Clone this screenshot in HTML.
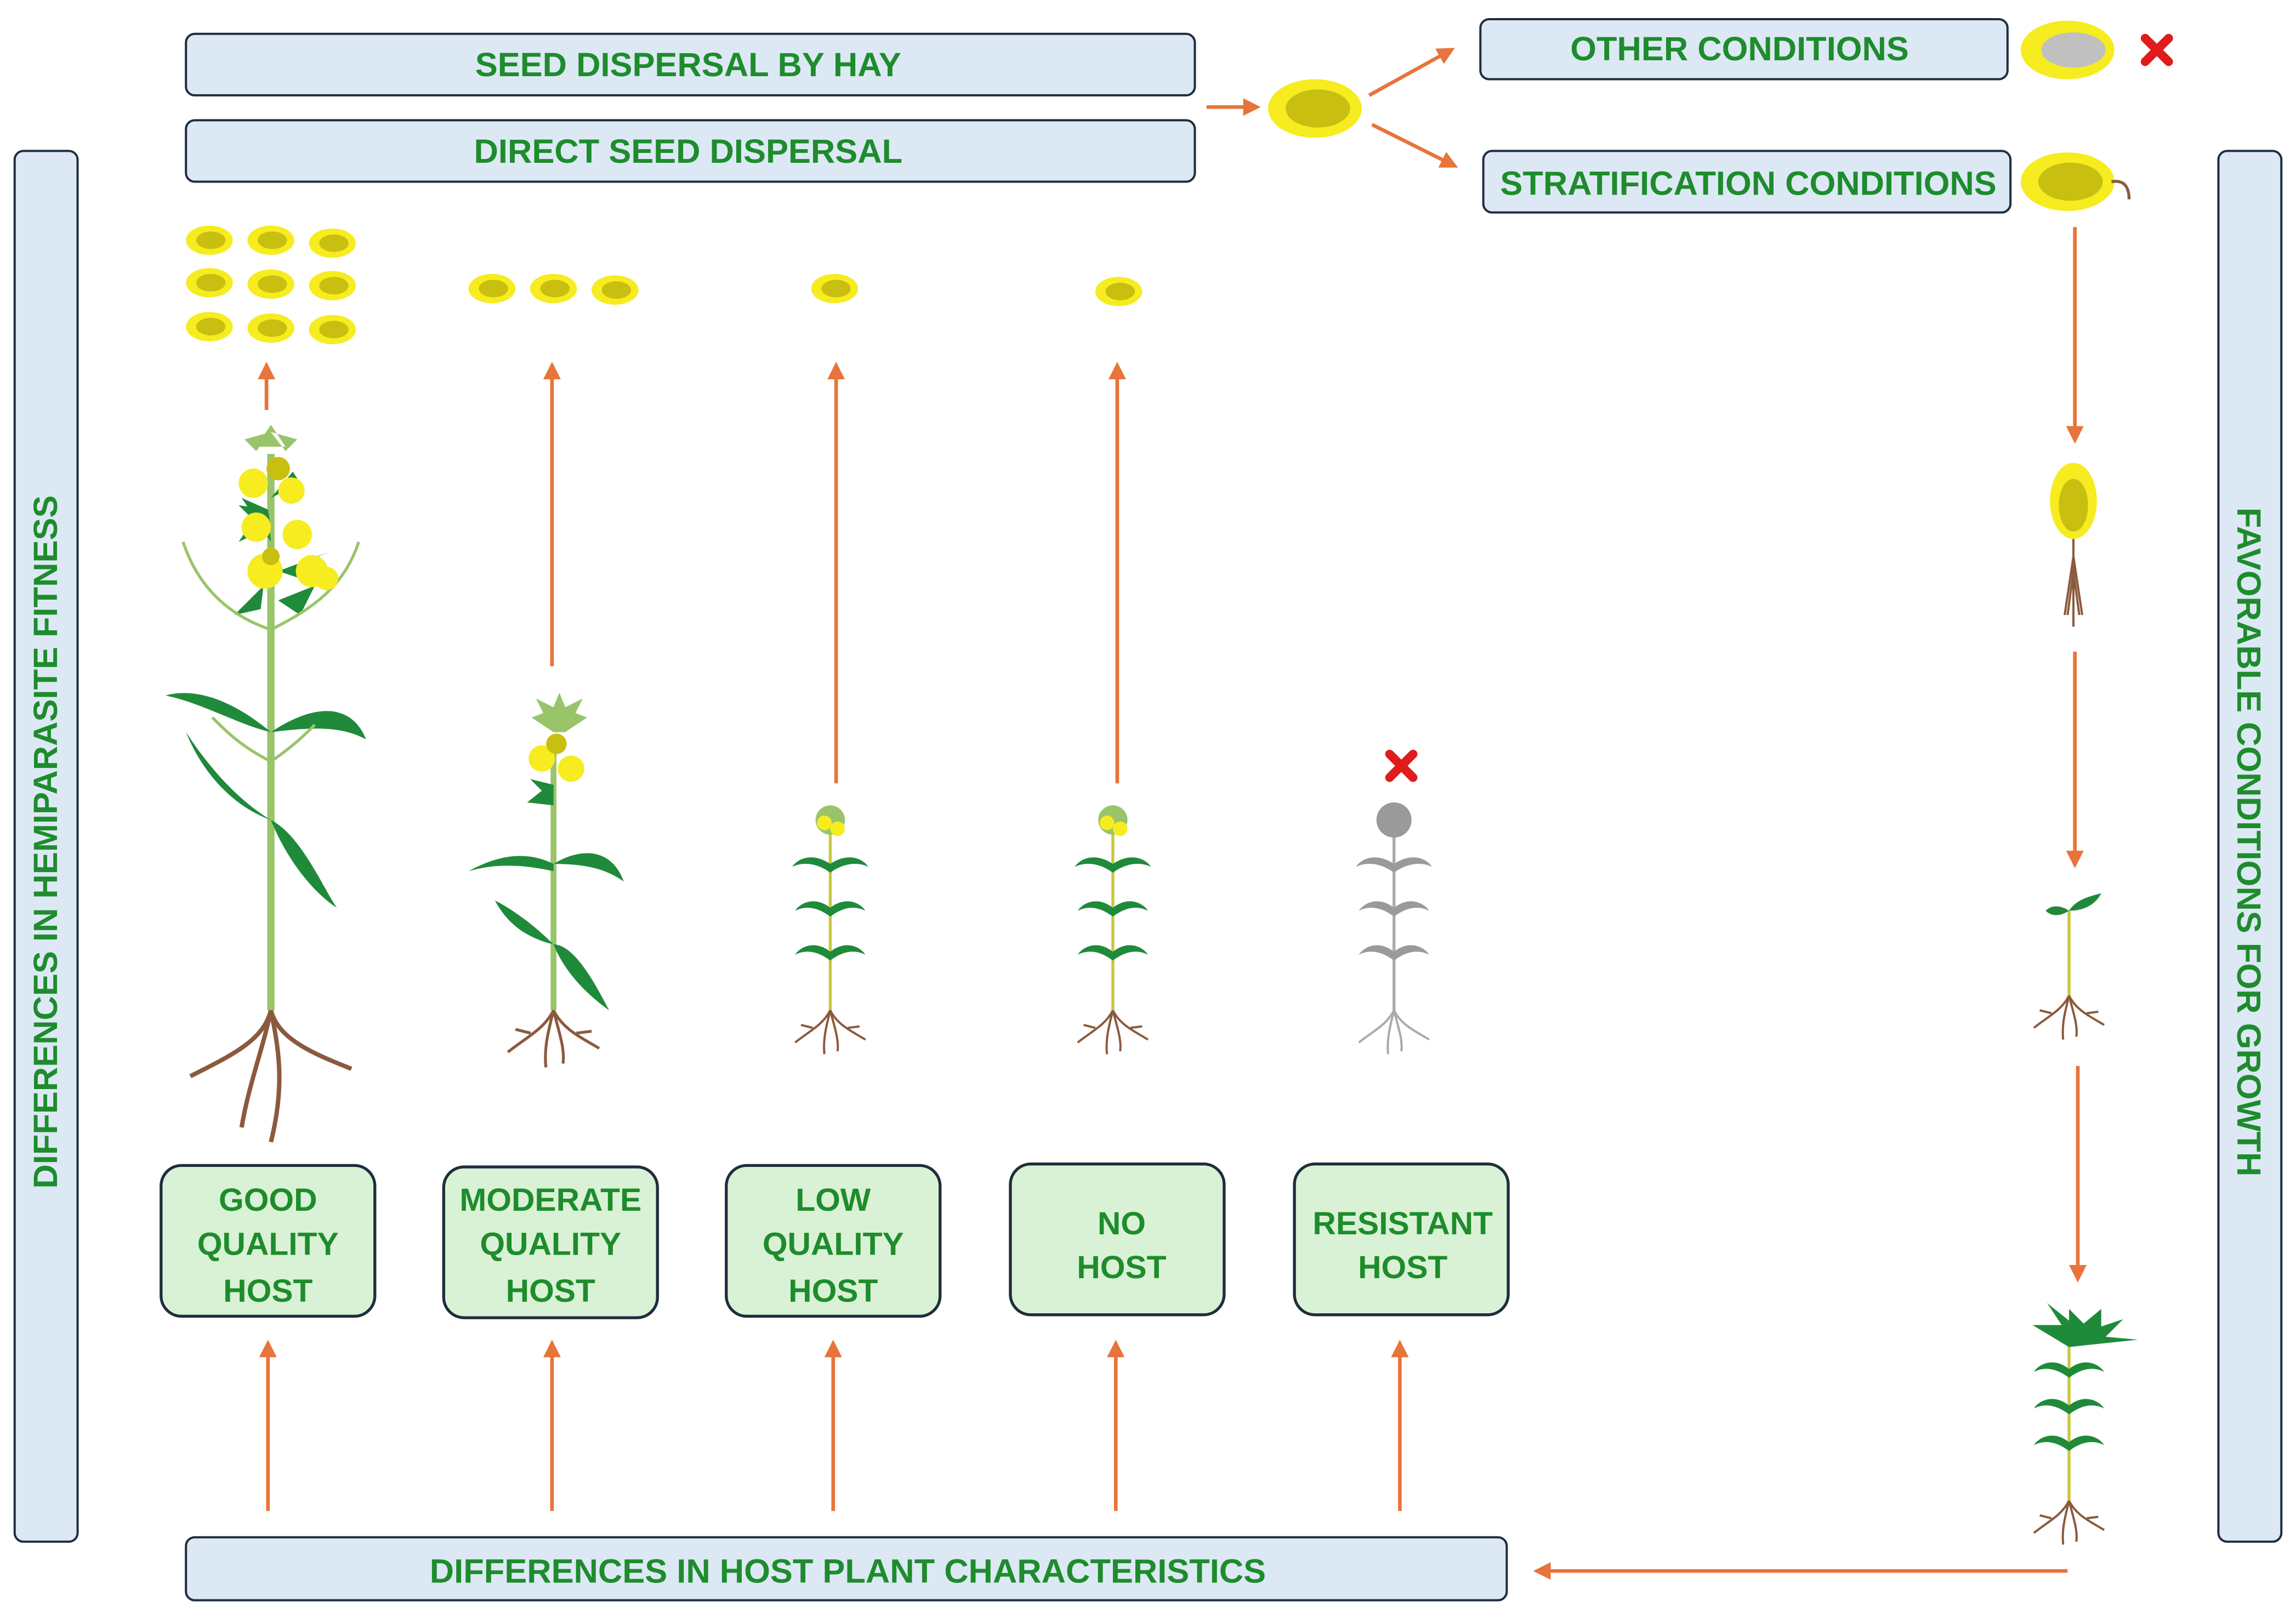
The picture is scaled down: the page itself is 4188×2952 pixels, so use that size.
<!DOCTYPE html>
<html><head><meta charset="utf-8"><style>
html,body{margin:0;padding:0;background:#fff;}
svg{display:block;}
text{font-family:"Liberation Sans",sans-serif;font-weight:bold;fill:#1e8c2c;}
</style></head><body>
<svg width="4188" height="2952" viewBox="0 0 1568 1105" xmlns="http://www.w3.org/2000/svg">
<defs>
<marker id="ah" markerWidth="12" markerHeight="12" refX="9" refY="6" orient="auto" markerUnits="userSpaceOnUse"><path d="M0,0 L12,6 L0,12 z" fill="#e8743b"/></marker>
<g id="seed"><ellipse cx="0" cy="0" rx="16" ry="10" fill="#f6ec1f"/><ellipse cx="1" cy="0" rx="10" ry="6" fill="#c9bf10"/></g>
<g id="bigseed"><ellipse cx="0" cy="0" rx="32" ry="20" fill="#f6ec1f"/><ellipse cx="2" cy="0" rx="22" ry="13" fill="#c9bf10"/></g>
<g id="roots" stroke="#8b5a3c" stroke-width="2" fill="none"><path d="M0,0 C-5,15 -20,20 -40,35 M0,0 C5,15 20,22 40,35 M0,0 C-3,20 -8,35 -6,60 M0,0 C4,20 10,40 8,55 M-20,20 L-30,18 M20,22 L30,20"/></g>
<g id="sroots" stroke="#8b5a3c" stroke-width="1.5" fill="none"><path d="M0,0 C-5,10 -14,14 -24,22 M0,0 C5,10 14,14 24,20 M0,0 C-3,12 -5,20 -4,30 M0,0 C3,12 6,20 5,28 M-12,12 L-20,10 M12,12 L20,11"/></g>
<g id="small" >
<path d="M0,0 L0,-140" stroke="#c8c83a" stroke-width="2" fill="none"/>
<g fill="#1f8a3a"><path d="M0,-40 c-10,-8 -20,-4 -24,2 c8,-4 16,-2 24,4z M0,-40 c10,-8 20,-4 24,2 c-8,-4 -16,-2 -24,4z"/>
<path d="M0,-70 c-10,-8 -20,-4 -24,2 c8,-4 16,-2 24,4z M0,-70 c10,-8 20,-4 24,2 c-8,-4 -16,-2 -24,4z"/>
<path d="M0,-100 c-12,-8 -22,-4 -26,2 c8,-4 18,-2 26,4z M0,-100 c12,-8 22,-4 26,2 c-8,-4 -18,-2 -26,4z"/></g>
<circle cx="0" cy="-130" r="10" fill="#9ac46a"/><circle cx="-4" cy="-128" r="5" fill="#f6ec1f"/><circle cx="5" cy="-124" r="5" fill="#f6ec1f"/>
</g>
</defs>

<g stroke="#1f2d3d" stroke-width="1.5" fill="#dce9f5">
<rect x="127" y="23" width="689" height="42" rx="6"/>
<rect x="127" y="82" width="689" height="42" rx="6"/>
<rect x="1011" y="13" width="360" height="41" rx="6"/>
<rect x="1013" y="103" width="360" height="42" rx="6"/>
<rect x="10" y="103" width="43" height="950" rx="6"/>
<rect x="1515" y="103" width="43" height="950" rx="6"/>
<rect x="127" y="1050" width="902" height="43" rx="6"/>
</g>
<g font-size="23" text-anchor="middle">
<text x="470" y="52">SEED DISPERSAL BY HAY</text>
<text x="470" y="111">DIRECT SEED DISPERSAL</text>
<text x="1188" y="41">OTHER CONDITIONS</text>
<text x="1194" y="133">STRATIFICATION CONDITIONS</text>
<text x="579" y="1081">DIFFERENCES IN HOST PLANT CHARACTERISTICS</text>
<text transform="translate(39,575) rotate(-90)">DIFFERENCES IN HEMIPARASITE FITNESS</text>
<text transform="translate(1528,575) rotate(90)">FAVORABLE CONDITIONS FOR GROWTH</text>
</g>

<g stroke="#1f2d3d" stroke-width="2" fill="#d9f2d5">
<rect x="110" y="796" width="146" height="103" rx="14"/>
<rect x="303" y="797" width="146" height="103" rx="14"/>
<rect x="496" y="796" width="146" height="103" rx="14"/>
<rect x="690" y="795" width="146" height="103" rx="14"/>
<rect x="884" y="795" width="146" height="103" rx="14"/>
</g>
<g font-size="22" text-anchor="middle">
<text x="183" y="827">GOOD</text><text x="183" y="857">QUALITY</text><text x="183" y="889">HOST</text>
<text x="376" y="827">MODERATE</text><text x="376" y="857">QUALITY</text><text x="376" y="889">HOST</text>
<text x="569" y="827">LOW</text><text x="569" y="857">QUALITY</text><text x="569" y="889">HOST</text>
<text x="766" y="843">NO</text><text x="766" y="873">HOST</text>
<text x="958" y="843">RESISTANT</text><text x="958" y="873">HOST</text>
</g>

<g stroke="#e8743b" stroke-width="2.5" fill="none" marker-end="url(#ah)">
<line x1="183" y1="1032" x2="183" y2="918"/>
<line x1="377" y1="1032" x2="377" y2="918"/>
<line x1="569" y1="1032" x2="569" y2="918"/>
<line x1="762" y1="1032" x2="762" y2="918"/>
<line x1="956" y1="1032" x2="956" y2="918"/>
<line x1="182" y1="280" x2="182" y2="250"/>
<line x1="377" y1="455" x2="377" y2="250"/>
<line x1="571" y1="535" x2="571" y2="250"/>
<line x1="763" y1="535" x2="763" y2="250"/>
<line x1="1417" y1="155" x2="1417" y2="300"/>
<line x1="1417" y1="445" x2="1417" y2="590"/>
<line x1="1419" y1="728" x2="1419" y2="873"/>
<line x1="1412" y1="1073" x2="1050" y2="1073"/>
<line x1="824" y1="73" x2="858" y2="73"/>
<line x1="935" y1="65" x2="991" y2="34"/>
<line x1="937" y1="85" x2="993" y2="113"/>
</g>

<use href="#bigseed" x="898" y="74"/>
<g transform="translate(1412,34)"><ellipse rx="32" ry="20" fill="#f6ec1f"/><ellipse cx="4" rx="22" ry="12" fill="#c0c0c0"/></g>
<g transform="translate(1412,124)"><ellipse rx="32" ry="20" fill="#f6ec1f"/><ellipse cx="2" rx="22" ry="13" fill="#c9bf10"/><path d="M30,0 q12,-2 12,12" stroke="#8b5a3c" stroke-width="2" fill="none"/></g>
<g stroke="#e01b1b" stroke-width="6" stroke-linecap="round"><path d="M1465,26 l16,16 M1481,26 l-16,16"/><path d="M949,515 l16,16 M965,515 l-16,16"/></g>
<use href="#seed" x="143" y="164"/><use href="#seed" x="185" y="164"/><use href="#seed" x="227" y="166"/>
<use href="#seed" x="143" y="193"/><use href="#seed" x="185" y="194"/><use href="#seed" x="227" y="195"/>
<use href="#seed" x="143" y="223"/><use href="#seed" x="185" y="224"/><use href="#seed" x="227" y="225"/>
<use href="#seed" x="336" y="197"/><use href="#seed" x="378" y="197"/><use href="#seed" x="420" y="198"/>
<use href="#seed" x="570" y="197"/><use href="#seed" x="764" y="199"/>

<ellipse cx="1416" cy="342" rx="16" ry="26" fill="#f6ec1f"/><ellipse cx="1416" cy="345" rx="10" ry="18" fill="#c9bf10"/>
<g stroke="#8b5a3c" stroke-width="1.5"><path d="M1416,368 L1416,428 M1416,380 l-6,40 M1416,380 l6,40 M1416,390 l-4,30 M1416,390 l4,30"/></g>

<path d="M1413,680 L1413,622" stroke="#c8c83a" stroke-width="2"/>
<path d="M1413,622 c5,-8 15,-10 22,-12 c-4,8 -12,12 -22,12z M1413,622 c-6,-4 -12,-4 -16,0 c4,4 10,4 16,0z" fill="#1f8a3a"/>
<use href="#sroots" x="1413" y="680"/>

<g transform="translate(1413,1025)"><path d="M0,0 L0,-120" stroke="#c8c83a" stroke-width="2"/>
<g fill="#1f8a3a"><path d="M0,-40 c-10,-8 -20,-4 -24,2 c8,-4 16,-2 24,4z M0,-40 c10,-8 20,-4 24,2 c-8,-4 -16,-2 -24,4z M0,-65 c-10,-8 -20,-4 -24,2 c8,-4 16,-2 24,4z M0,-65 c10,-8 20,-4 24,2 c-8,-4 -16,-2 -24,4z M0,-90 c-10,-8 -20,-4 -24,2 c8,-4 16,-2 24,4z M0,-90 c10,-8 20,-4 24,2 c-8,-4 -16,-2 -24,4z M0,-105 l-25,-15 l20,0 l-10,-15 l15,12 l0,-8 l10,10 l12,-10 l0,12 l15,-5 l-12,12 l22,2z"/></g>
<use href="#sroots" x="0" y="0"/></g>

<use href="#small" x="567" y="690"/><use href="#sroots" x="567" y="690"/>
<use href="#small" x="760" y="690"/><use href="#sroots" x="760" y="690"/>
<g transform="translate(952,690)">
<path d="M0,0 L0,-140" stroke="#aaa" stroke-width="2"/>
<g fill="#9a9a9a"><path d="M0,-40 c-10,-8 -20,-4 -24,2 c8,-4 16,-2 24,4z M0,-40 c10,-8 20,-4 24,2 c-8,-4 -16,-2 -24,4z M0,-70 c-10,-8 -20,-4 -24,2 c8,-4 16,-2 24,4z M0,-70 c10,-8 20,-4 24,2 c-8,-4 -16,-2 -24,4z M0,-100 c-12,-8 -22,-4 -26,2 c8,-4 18,-2 26,4z M0,-100 c12,-8 22,-4 26,2 c-8,-4 -18,-2 -26,4z"/><circle cx="0" cy="-130" r="12"/></g>
<g stroke="#aaa" stroke-width="1.5" fill="none"><path d="M0,0 C-5,10 -14,14 -24,22 M0,0 C5,10 14,14 24,20 M0,0 C-3,12 -5,20 -4,30 M0,0 C3,12 6,20 5,28"/></g></g>

<g transform="translate(378,690)">
<path d="M0,0 L0,-180" stroke="#9ac46a" stroke-width="4"/>
<path d="M0,-100 c-20,-10 -40,-5 -58,5 c20,-6 40,-4 58,0z M0,-100 c20,-12 40,-10 48,12 c-14,-10 -30,-12 -48,-12z M0,-45 c-15,-15 -30,-25 -40,-30 c8,15 20,25 40,30z M0,-45 c15,0 30,30 38,45 c-14,-10 -30,-25 -38,-45z" fill="#1f8a3a"/>
<path d="M0,-140 l-18,-2 l10,-8 l-8,-8 l16,4z" fill="#1f8a3a"/>
<path d="M0,-190 l-15,-10 l8,-3 l-5,-10 l12,6 l4,-10 l4,10 l12,-6 l-5,10 l8,3 l-15,10z" fill="#9ac46a"/>
<circle cx="-8" cy="-172" r="9" fill="#f6ec1f"/><circle cx="12" cy="-165" r="9" fill="#f6ec1f"/><circle cx="2" cy="-182" r="7" fill="#c9bf10"/>
<use href="#sroots" x="0" y="0" transform="scale(1.3)"/></g>

<g transform="translate(185,690)">
<path d="M0,0 L0,-380" stroke="#9ac46a" stroke-width="5"/>
<g fill="#1f8a3a">
<path d="M0,-190 c-30,-25 -55,-30 -72,-25 c25,5 50,20 72,25z M0,-190 c30,-20 55,-20 65,5 c-18,-10 -40,-8 -65,-5z"/>
<path d="M0,-130 c-25,-15 -45,-40 -58,-60 c10,25 30,50 58,60z M0,-130 c20,10 35,45 45,60 c-18,-12 -35,-35 -45,-60z"/>
<path d="M0,-330 l-22,10 l10,-15 l-10,-10 l20,3z M5,-280 l25,-10 l-10,20z M0,-320 l-20,-30 l18,8z M5,-300 l30,10 l-10,-18 l15,-5z M-5,-290 l-20,20 l18,-4z M0,-350 l20,-10 l-5,-8z"/>
</g>
<path d="M0,-400 l-10,15 l20,0z M0,-395 l-18,5 l8,8z M0,-395 l18,5 l-8,8z" fill="#9ac46a"/>
<g stroke="#9ac46a" stroke-width="2" fill="none"><path d="M0,-260 c-30,-10 -50,-30 -60,-60 M0,-260 c30,-15 50,-30 60,-60 M0,-170 c-20,-10 -30,-20 -40,-30 M0,-170 c15,-10 25,-20 30,-25"/></g>
<g fill="#f6ec1f"><circle cx="-12" cy="-360" r="10"/><circle cx="14" cy="-355" r="9"/><circle cx="-10" cy="-330" r="10"/><circle cx="18" cy="-325" r="10"/><circle cx="-4" cy="-300" r="12"/><circle cx="28" cy="-300" r="11"/><circle cx="38" cy="-295" r="8"/></g>
<g fill="#c9bf10"><circle cx="5" cy="-370" r="8"/><circle cx="0" cy="-310" r="6"/></g>
<path d="M0,0 C-5,20 -25,30 -55,45 M0,0 C5,20 30,30 55,40 M0,0 C-5,25 -15,50 -20,80 M0,0 C5,25 10,50 0,90" stroke="#8b5a3c" stroke-width="3" fill="none"/>
</g>
</svg>
</body></html>
